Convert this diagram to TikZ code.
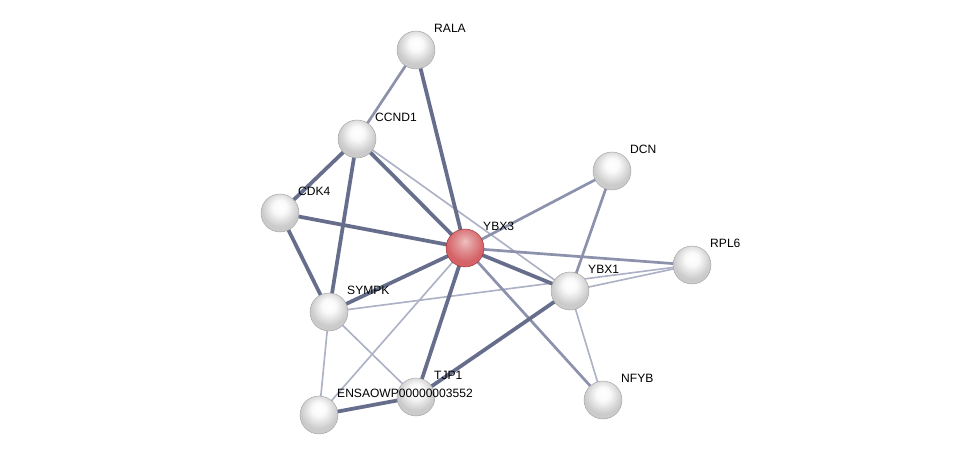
\documentclass[tikz,border=0pt]{standalone}
\usepackage{fontspec}
\setmainfont{Liberation Sans}
\usepackage{tikz}
\usetikzlibrary{positioning}
\definecolor{edgedark}{RGB}{102,110,140}
\definecolor{edgemid}{RGB}{140,145,172}
\definecolor{edgelight}{RGB}{172,177,198}
\definecolor{rimgray}{RGB}{128,128,128}
\definecolor{bodygray}{RGB}{203,203,203}
\definecolor{lowgray}{RGB}{232,232,232}
\definecolor{rimred}{RGB}{150,45,50}
\definecolor{bodyred}{RGB}{212,98,102}
\definecolor{lowred}{RGB}{236,140,142}
\pgfdeclareradialshading{grayball}{\pgfpoint{0bp}{9bp}}{%
  color(0bp)=(white); color(9bp)=(white!90!bodygray); color(24bp)=(bodygray);
  color(40bp)=(bodygray); color(48bp)=(lowgray); color(54bp)=(bodygray!80!rimgray);
  color(60bp)=(rimgray); color(70bp)=(rimgray)}
\pgfdeclareradialshading{redball}{\pgfpoint{0bp}{9bp}}{%
  color(0bp)=(white!60!bodyred); color(9bp)=(white!35!bodyred); color(24bp)=(bodyred);
  color(40bp)=(bodyred); color(48bp)=(lowred); color(54bp)=(bodyred!80!rimred);
  color(60bp)=(rimred); color(70bp)=(rimred)}
\pgfdeclarelayer{background}
\pgfsetlayers{background,main}
\tikzset{
  protein/.style={circle, shading=grayball, minimum size=1.14cm,
    inner sep=0pt, draw=gray!75, line width=0.35pt},
  query/.style={protein, shading=redball, draw=rimred},
  lbl/.style={anchor=west, inner sep=0pt, font=\fontsize{10.3}{12}\selectfont, text=black},
  strong/.style={line width=3.2pt, color=edgedark},
  medium/.style={line width=2.3pt, color=edgemid},
  weak/.style={line width=1.4pt, color=edgelight}
}

\begin{document}
\begin{tikzpicture}[x=0.03cm, y=-0.03cm]
  \useasboundingbox (0,0) rectangle (976,460);

  % Proteins
  \node[protein] (rala) at (416,50) {};
  \node[protein] (ccnd1) at (357,139) {};
  \node[protein] (dcn) at (612,171) {};
  \node[protein] (cdk4) at (280,213) {};
  \node[query] (ybx3) at (465,248) {};
  \node[protein] (rpl6) at (692,265) {};
  \node[protein] (ybx1) at (570,291) {};
  \node[protein] (sympk) at (329,312) {};
  \node[protein] (tjp1) at (416,397) {};
  \node[protein] (ensa) at (319,415) {};
  \node[protein] (nfyb) at (603,400) {};

  % Interactions
  \begin{pgfonlayer}{background}
  \draw[weak] (ccnd1.center) -- (ybx1.center);
  \draw[weak] (ybx3.center) -- (ensa.center);
  \draw[weak] (sympk.center) -- (rpl6.center);
  \draw[weak] (sympk.center) -- (tjp1.center);
  \draw[weak] (sympk.center) -- (ensa.center);
  \draw[weak] (ybx1.center) -- (rpl6.center);
  \draw[weak] (ybx1.center) -- (nfyb.center);

  \draw[medium] (rala.center) -- (ccnd1.center);
  \draw[medium] (dcn.center) -- (ybx3.center);
  \draw[medium] (ybx3.center) -- (rpl6.center);
  \draw[medium] (ybx3.center) -- (nfyb.center);
  \draw[medium] (dcn.center) -- (ybx1.center);

  \draw[strong] (rala.center) -- (ybx3.center);
  \draw[strong] (ccnd1.center) -- (cdk4.center);
  \draw[strong] (ccnd1.center) -- (ybx3.center);
  \draw[strong] (ccnd1.center) -- (sympk.center);
  \draw[strong] (cdk4.center) -- (ybx3.center);
  \draw[strong] (cdk4.center) -- (sympk.center);
  \draw[strong] (ybx3.center) -- (sympk.center);
  \draw[strong] (ybx3.center) -- (tjp1.center);
  \draw[strong] (tjp1.center) -- (ensa.center);
  \draw[strong] (ybx3.center) -- (ybx1.center);
  \draw[strong] (tjp1.center) -- (ybx1.center);
  \end{pgfonlayer}

  % Labels
  \node[lbl] (lrala) at ([shift={(18,-22)}]rala) {RALA};
  \node[lbl] (lccnd1) at ([shift={(18,-22)}]ccnd1) {CCND1};
  \node[lbl] (ldcn) at ([shift={(18,-22)}]dcn) {DCN};
  \node[lbl] (lcdk4) at ([shift={(18,-22)}]cdk4) {CDK4};
  \node[lbl] (lybx3) at ([shift={(18,-22)}]ybx3) {YBX3};
  \node[lbl] (lrpl6) at ([shift={(18,-22)}]rpl6) {RPL6};
  \node[lbl] (lybx1) at ([shift={(18,-22)}]ybx1) {YBX1};
  \node[lbl] (lsympk) at ([shift={(18,-22)}]sympk) {SYMPK};
  \node[lbl] (ltjp1) at ([shift={(18,-22)}]tjp1) {TJP1};
  \node[lbl] (lensa) at ([shift={(18,-22)}]ensa) {ENSAOWP00000003552};
  \node[lbl] (lnfyb) at ([shift={(18,-22)}]nfyb) {NFYB};
\end{tikzpicture}
\end{document}
